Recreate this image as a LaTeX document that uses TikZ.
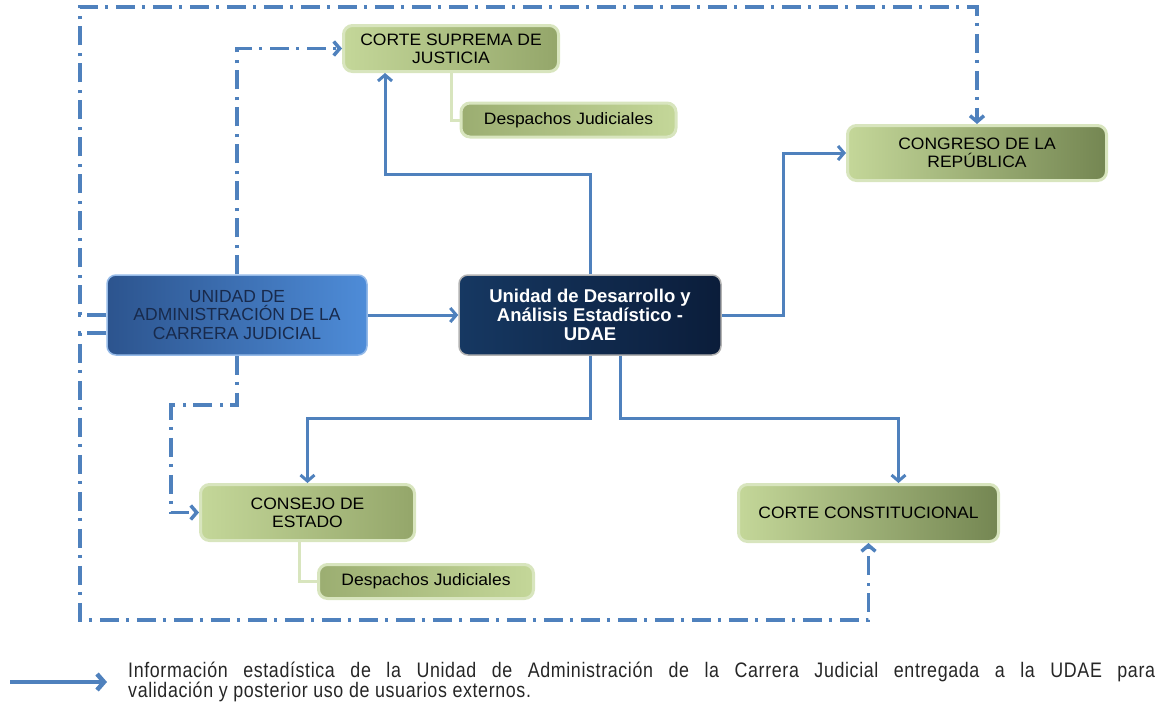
\documentclass[tikz,border=0pt]{standalone}
\usepackage{fontspec}
\setmainfont{Liberation Sans}
\newfontfamily\boxsans[FakeStretch=1.06]{Liberation Sans}
\newfontfamily\narrowsans[FakeStretch=0.85,LetterSpace=3]{Liberation Sans}
\usepackage{xcolor}
\usepackage{tikz}
\usetikzlibrary{arrows.meta}

\definecolor{flowblue}{RGB}{79,129,189}
\definecolor{greenlight}{RGB}{196,215,153}
\definecolor{greenmid}{RGB}{148,166,106}
\definecolor{greendark}{RGB}{116,134,82}
\definecolor{greenedge}{RGB}{216,229,190}
\definecolor{uacleft}{RGB}{44,84,142}
\definecolor{uacright}{RGB}{78,140,216}
\definecolor{udaeleft}{RGB}{22,56,98}
\definecolor{udaeright}{RGB}{11,29,58}
\definecolor{navytext}{RGB}{24,42,76}

\begin{document}
\begin{tikzpicture}[x=1pt,y=-1pt,
  entity/.style={rounded corners=9pt, line width=3pt, draw=greenedge, align=center,
    inner sep=0pt, font=\boxsans\fontsize{16.5}{18}\selectfont},
  court/.style={entity, left color=greenlight, right color=greenmid},
  bigcourt/.style={entity, left color=greenlight, right color=greendark},
  office/.style={entity, left color=greenmid!85!greenlight, right color=greenlight,
    minimum width=215, minimum height=34},
  flow/.style={flowblue, line width=3pt, -{Straight Barb[length=6pt,width=14pt]}},
  info/.style={flowblue, line width=3.5pt, dash pattern=on 19pt off 7pt on 3pt off 8pt,
    -{Straight Barb[length=6pt,width=14pt]}},
  link/.style={greenedge, line width=3pt}]
\useasboundingbox (0,0) rectangle (1167,702);

% nodes
\node[court, minimum width=215, minimum height=46] (csj) at (451,48.5) {CORTE SUPREMA DE\\JUSTICIA};
\node[office] (desp1) at (568.5,120) {Despachos Judiciales};
\node[bigcourt, minimum width=259, minimum height=55] (cong) at (977,153) {CONGRESO DE LA\\REPÚBLICA};
\node[entity, draw=uacright!60!white, line width=1.5pt, left color=uacleft, right color=uacright,
  text=navytext, minimum width=260, minimum height=80, font=\fontsize{17.5}{18.5}\selectfont] (uac) at (237,315)
  {UNIDAD DE\\ADMINISTRACIÓN DE LA\\CARRERA JUDICIAL};
\node[entity, draw=gray!60, line width=1.5pt, left color=udaeleft, right color=udaeright,
  text=white, minimum width=262, minimum height=80, font=\fontsize{18.5}{19}\selectfont\bfseries] (udae) at (590,315)
  {Unidad de Desarrollo y\\Análisis Estadístico -\\UDAE};
\node[court, minimum width=214, minimum height=56] (consejo) at (307.5,512.5) {CONSEJO DE\\ESTADO};
\node[office] (desp2) at (426,581.5) {Despachos Judiciales};
\node[bigcourt, minimum width=260, minimum height=57] (cc) at (868.5,513) {CORTE CONSTITUCIONAL};

% corners of the outer loop
\coordinate (lt) at (80,7);
\coordinate (lb) at (80,620);

% dependencies
\draw[link] (csj.south) |- (desp1.west);
\draw[link] ([xshift=-8]consejo.south) |- (desp2.west);

% solid flows
\draw[flow] (uac) -- (udae);
\draw[flow] (udae.north) -- ++(0,-100) -| ([xshift=-66]csj.south);
\draw[flow] (udae.east) -- ++(62,0) |- (cong.west);
\draw[flow] (udae.south) -- ++(0,63) -| (consejo.north);
\draw[flow] ([xshift=30]udae.south) -- ++(0,63) -| ([xshift=30]cc.north);

% dash-dot flows
\draw[info] (uac.north) |- (csj.west);
\draw[info] (uac.south) -- ++(0,49) -- ++(-66,0) |- (consejo.west);
\draw[info] (uac.west) -| (lt) -| (cong.north);
\draw[info] ([yshift=-18]uac.west) -| (lb) -| (cc.south);

% legend
\coordinate (la) at (10,682);
\coordinate (lz) at (107,682);
\draw[flowblue, line width=4.5pt, -{Straight Barb[length=7pt,width=16pt]}] (la) -- (lz);
\node[anchor=base west, inner sep=0pt, text width=1027, align=justify,
  font=\narrowsans\fontsize{21}{20}\selectfont, text=black!85] (leg) at (128,677)
  {Información estadística de la Unidad de Administración de la Carrera Judicial entregada a la UDAE para\linebreak
   validación y posterior uso de usuarios externos.};
\end{tikzpicture}
\end{document}
